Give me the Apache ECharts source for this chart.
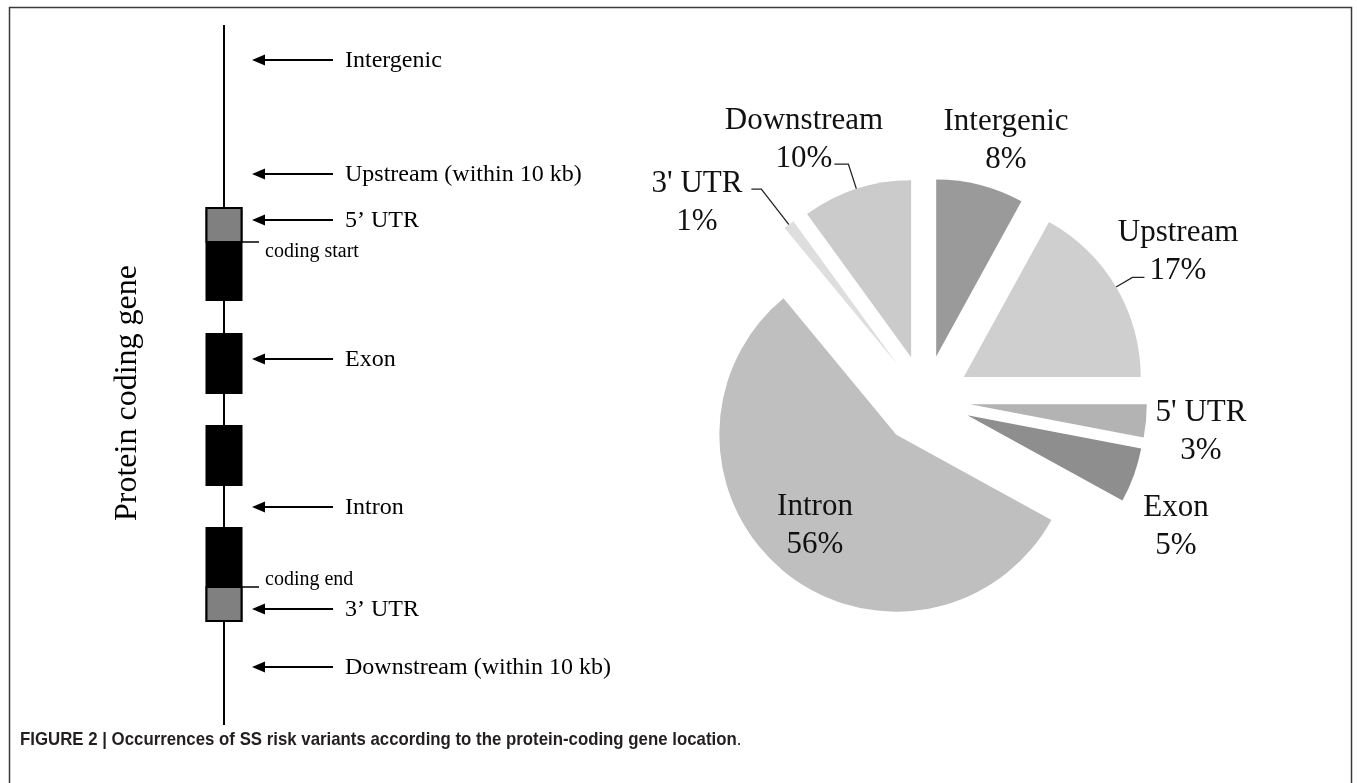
<!DOCTYPE html>
<html>
<head>
<meta charset="utf-8">
<script src="https://cdn.jsdelivr.net/npm/echarts@6/dist/echarts.min.js"></script>
<style>
  html, body { margin: 0; padding: 0; background: #ffffff; }
  #chart { width: 1357px; height: 783px; }
</style>
</head>
<body>
<div id="chart"></div>
<script>
// Share of SS risk variants per gene region (%)
const regionNames = ['Intergenic', 'Upstream', "5' UTR", 'Exon', 'Intron', "3' UTR", 'Downstream'];
const regionShares = [8, 17, 3, 5, 56, 1, 10];

// Gene model along the schematic track (track units, 0 = top)
const trackSpan = [0, 700];
const exonSpans = [[183, 275], [309, 368], [401, 460], [503, 596]];
const utrSpans = [[183, 217], [562, 596]];
const codingNames = ['coding start', 'coding end'];
const codingAt = [217, 562];
const regionLabels = ['Intergenic', 'Upstream (within 10 kb)', '5\u2019 UTR', 'Exon', 'Intron', '3\u2019 UTR', 'Downstream (within 10 kb)'];
const regionAt = [35, 149, 195, 334, 482, 584, 642];

const captionBold = 'FIGURE 2 | Occurrences of SS risk variants according to the protein-coding gene location';
const trackTitle = 'Protein coding gene';

// ---- styling ----
const SERIF = '"Liberation Serif", "Times New Roman", serif';
const PIE_CENTER = [925, 400];
const PIE_RADIUS = 177;
const EXPLODE = 45;
const sliceColors = {
  'Intergenic': '#9a9a9a', 'Upstream': '#cfcfcf', "5' UTR": '#b3b3b3', 'Exon': '#8e8e8e',
  'Intron': '#bfbfbf', "3' UTR": '#dedede', 'Downstream': '#cbcbcb'
};
// label block centres
const labelSpot = {
  'Intergenic': [1006, 141], 'Upstream': [1178, 252], "5' UTR": [1201, 432], 'Exon': [1176, 527],
  'Intron': [815, 526], "3' UTR": [697, 203], 'Downstream': [804, 140]
};
// leader lines: radial run, then horizontal run
const leaderLines = {
  'Upstream': { length: 19, length2: 12 },
  "3' UTR": { length: 45, length2: 10 },
  'Downstream': { length: 26, length2: 14 }
};

const chart = echarts.init(document.getElementById('chart'), null, { renderer: 'canvas' });

function boxRender(fill) {
  return function (params, api) {
    const a = api.coord([-17.5, api.value(0)]);
    const b = api.coord([17.5, api.value(1)]);
    return {
      type: 'rect',
      shape: { x: a[0], y: a[1], width: b[0] - a[0], height: b[1] - a[1] },
      style: { fill: fill, stroke: '#000', lineWidth: 2 }
    };
  };
}

// Exploded pie: one pie layer per region, each pulled out along its own mid-angle.
const totalShare = regionShares.reduce(function (a, b) { return a + b; }, 0);
const pieLayers = regionNames.map(function (name, i) {
  const before = regionShares.slice(0, i).reduce(function (a, b) { return a + b; }, 0);
  const mid = (before + regionShares[i] / 2) / totalShare * 2 * Math.PI;
  const center = [PIE_CENTER[0] + EXPLODE * Math.sin(mid), PIE_CENTER[1] - EXPLODE * Math.cos(mid)];
  const leader = leaderLines[name];
  return {
    type: 'pie',
    center: center,
    radius: PIE_RADIUS,
    startAngle: 90,
    clockwise: true,
    avoidLabelOverlap: false,
    silent: true,
    emphasis: { disabled: true },
    data: regionNames.map(function (n, j) {
      const own = j === i;
      return {
        name: n, value: regionShares[j],
        itemStyle: { color: own ? sliceColors[n] : 'rgba(0,0,0,0)' },
        label: { show: own },
        labelLine: own && leader
          ? { show: true, length: leader.length, length2: leader.length2 }
          : { show: false }
      };
    }),
    label: {
      position: 'outside',
      formatter: '{b}\n{c}%',
      fontFamily: SERIF,
      fontSize: 31,
      lineHeight: 38,
      color: '#111'
    },
    labelLine: { length: 10, length2: 12, lineStyle: { color: '#222', width: 1.3 } },
    labelLayout: function (params) {
      const s = labelSpot[regionNames[params.dataIndex]];
      return {
        x: s[0], y: s[1], align: 'center', verticalAlign: 'middle',
        labelLinePoints: params.labelLinePoints
      };
    }
  };
});

const option = {
  backgroundColor: '#ffffff',
  animation: false,
  grid: { left: 150, top: 25, width: 500, height: 700, containLabel: false },
  xAxis: { type: 'value', min: -74, max: 426, show: false },
  yAxis: { type: 'value', min: trackSpan[0], max: trackSpan[1], inverse: true, show: false },
  graphic: [
    { type: 'polyline', silent: true,
      shape: { points: [[9.5, 783], [9.5, 7.5], [1351.5, 7.5], [1351.5, 783]] },
      style: { stroke: '#3a3a3a', lineWidth: 1.5, fill: null } },
    { type: 'text', x: 128, y: 393, rotation: Math.PI / 2, silent: true,
      style: { text: trackTitle, font: '32px ' + SERIF, fill: '#000', align: 'center', verticalAlign: 'middle' } },
    { type: 'text', x: 20, y: 740, scaleX: 0.885, silent: true,
      style: {
        text: '{b|' + captionBold + '}{n|.}',
        verticalAlign: 'middle',
        rich: {
          b: { font: 'bold 19px "Liberation Sans", Arial, sans-serif', fill: '#231f20' },
          n: { font: '19px "Liberation Sans", Arial, sans-serif', fill: '#231f20' }
        }
      } }
  ],
  series: [
    {
      type: 'line', silent: true, symbol: 'none',
      data: [[0, trackSpan[0]], [0, trackSpan[1]]],
      lineStyle: { color: '#000', width: 2 }, z: 1
    },
    {
      type: 'custom', silent: true, z: 2,
      data: exonSpans,
      renderItem: boxRender('#000')
    },
    {
      type: 'custom', silent: true, z: 3,
      data: utrSpans,
      renderItem: boxRender('#808080')
    },
    {
      type: 'custom', silent: true, z: 3,
      data: codingAt.map(function (v) { return [0, v]; }),
      renderItem: function (params, api) {
        const y = api.value(1);
        const p0 = api.coord([17.5, y]);
        const p1 = api.coord([35, y]);
        const t = api.coord([41, y + (params.dataIndex === 0 ? 0 : 3)]);
        return {
          type: 'group',
          children: [
            { type: 'line', shape: { x1: p0[0], y1: p0[1], x2: p1[0], y2: p1[1] },
              style: { stroke: '#000', lineWidth: 1.5 } },
            { type: 'text', x: t[0], y: t[1],
              style: { text: codingNames[params.dataIndex], font: '20px ' + SERIF, fill: '#000',
                       align: 'left', verticalAlign: params.dataIndex === 0 ? 'top' : 'bottom' } }
          ]
        };
      }
    },
    {
      type: 'custom', silent: true, z: 3,
      data: regionAt.map(function (v) { return [0, v]; }),
      renderItem: function (params, api) {
        const y = api.value(1);
        const tip = api.coord([28, y]);
        const tail = api.coord([109, y]);
        const t = api.coord([121, y]);
        return {
          type: 'group',
          children: [
            { type: 'line', shape: { x1: tip[0] + 8, y1: tip[1], x2: tail[0], y2: tail[1] },
              style: { stroke: '#000', lineWidth: 2 } },
            { type: 'polygon',
              shape: { points: [[tip[0], tip[1]], [tip[0] + 13, tip[1] - 5.5], [tip[0] + 13, tip[1] + 5.5]] },
              style: { fill: '#000' } },
            { type: 'text', x: t[0], y: t[1] + 1,
              style: { text: regionLabels[params.dataIndex], font: '24px ' + SERIF, fill: '#000',
                       align: 'left', verticalAlign: 'middle' } }
          ]
        };
      }
    }
  ].concat(pieLayers)
};

chart.setOption(option);
</script>
</body>
</html>
